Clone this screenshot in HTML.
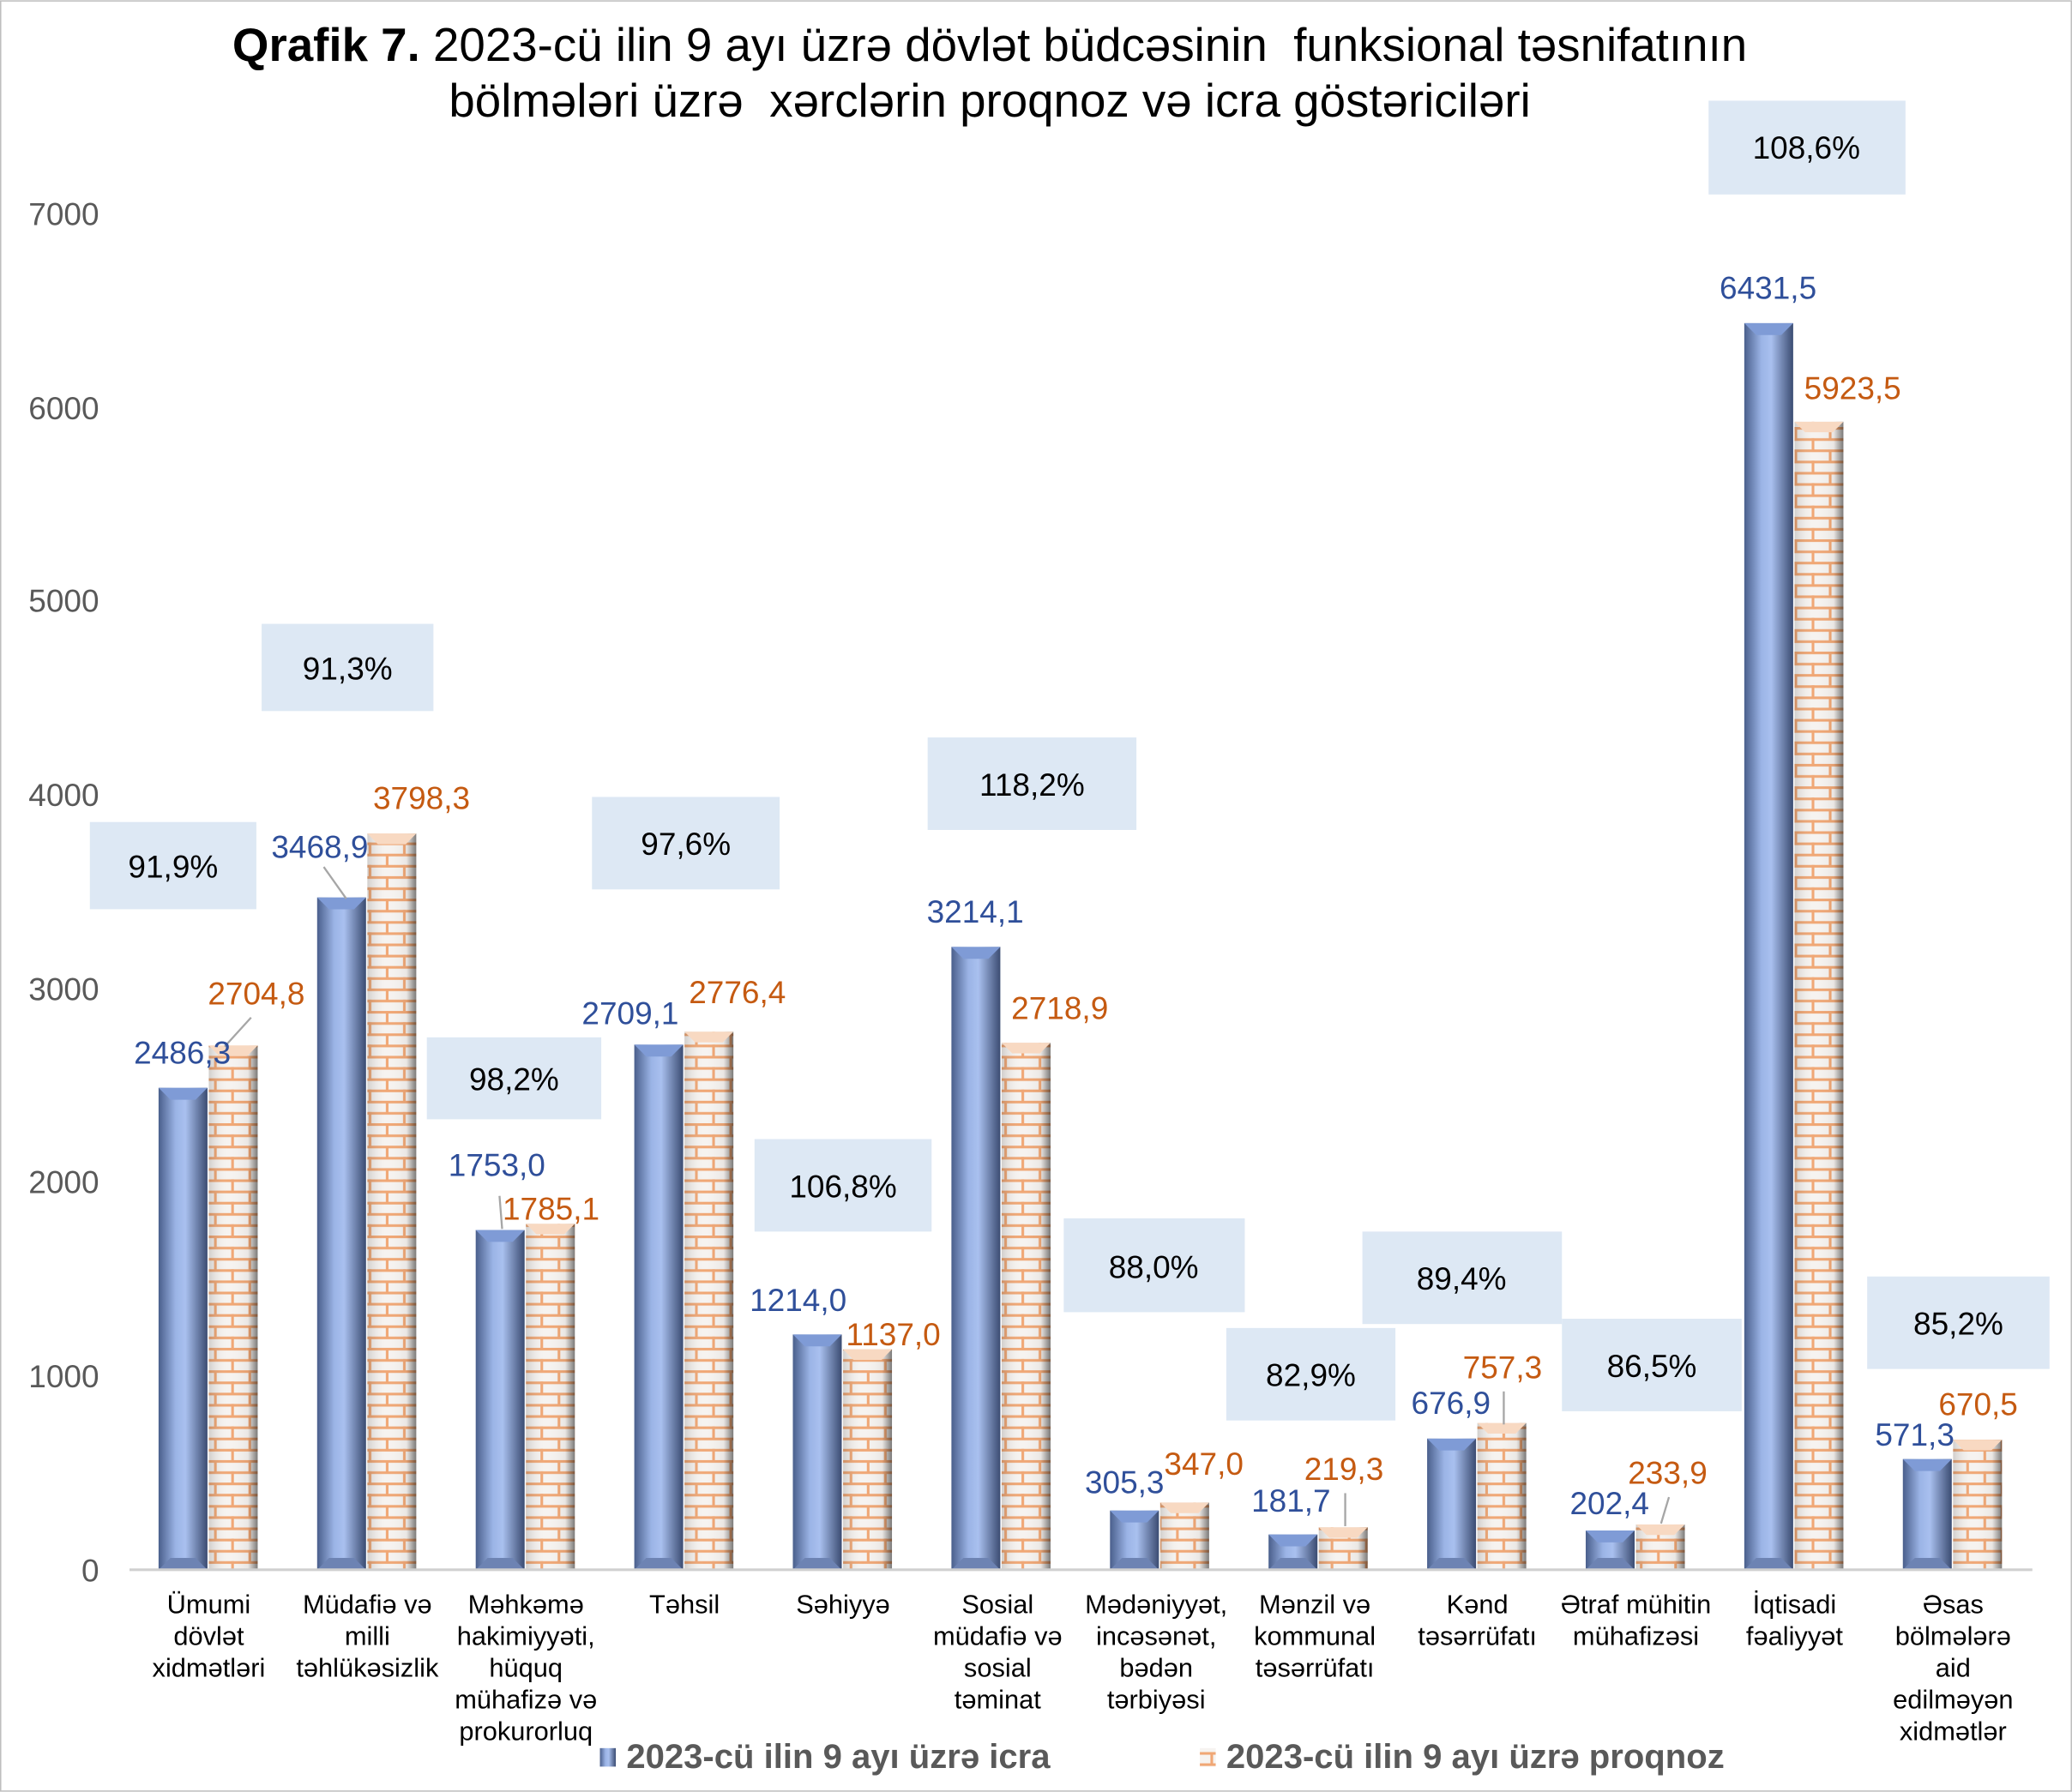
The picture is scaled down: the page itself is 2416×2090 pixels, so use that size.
<!DOCTYPE html>
<html><head><meta charset="utf-8"><style>
html,body{margin:0;padding:0;background:#fff}
svg{display:block}
text{font-family:"Liberation Sans",Arial,sans-serif}
</style></head><body>
<svg width="2416" height="2090" viewBox="0 0 1568 1356" xmlns="http://www.w3.org/2000/svg">
<defs>
<linearGradient id="bl" x1="0" x2="1" y1="0" y2="0">
<stop offset="0" stop-color="#4a5f8c"/><stop offset="0.35" stop-color="#9bb4e6"/><stop offset="0.55" stop-color="#a9c0ef"/><stop offset="1" stop-color="#3b4c72"/></linearGradient>
<linearGradient id="shade" x1="0" x2="1" y1="0" y2="0">
<stop offset="0" stop-color="#000" stop-opacity="0.15"/><stop offset="0.4" stop-color="#fff" stop-opacity="0"/><stop offset="0.8" stop-color="#000" stop-opacity="0.05"/><stop offset="1" stop-color="#000" stop-opacity="0.5"/></linearGradient>
<pattern id="brick" width="26" height="17" patternUnits="userSpaceOnUse">
<rect width="26" height="17" fill="#f6f3f0"/>
<rect y="0" width="26" height="2" fill="#f0a775"/>
<rect y="8.5" width="26" height="2" fill="#f0a775"/>
<rect x="6" y="0" width="2" height="9" fill="#f0a775"/>
<rect x="19" y="8.5" width="2" height="9" fill="#f0a775"/>
</pattern>
</defs>
<rect x="0.5" y="0.5" width="1567" height="1355" fill="#fff" stroke="#bfbfbf"/>
<text x="749" y="46" font-size="35.5" text-anchor="middle" xml:space="preserve"><tspan font-weight="bold">Qrafik 7.</tspan> 2023-cü ilin 9 ayı üzrə dövlət büdcəsinin  funksional təsnifatının</text>
<text x="749" y="88" font-size="35.5" text-anchor="middle" xml:space="preserve">bölmələri üzrə  xərclərin proqnoz və icra göstəriciləri</text>
<g font-size="24" fill="#595959" text-anchor="end">
<text x="75" y="1197">0</text><text x="75" y="1050">1000</text><text x="75" y="903">2000</text><text x="75" y="757">3000</text><text x="75" y="610">4000</text><text x="75" y="463">5000</text><text x="75" y="317">6000</text><text x="75" y="170">7000</text>
</g>
<g fill="#dde8f4">
<rect x="68" y="622" width="126" height="66"/><rect x="198" y="472" width="130" height="66"/><rect x="323" y="785" width="132" height="62"/><rect x="448" y="603" width="142" height="70"/><rect x="571" y="862" width="134" height="70"/><rect x="702" y="558" width="158" height="70"/><rect x="805" y="922" width="137" height="71"/><rect x="928" y="1005" width="128" height="70"/><rect x="1031" y="932" width="151" height="70"/><rect x="1182" y="998" width="136" height="70"/><rect x="1293" y="76" width="149" height="71"/><rect x="1413" y="966" width="138" height="70"/>
</g>
<g font-size="24" fill="#000" text-anchor="middle">
<text x="131" y="664">91,9%</text><text x="263" y="514">91,3%</text><text x="389" y="825">98,2%</text><text x="519" y="647">97,6%</text><text x="638" y="906">106,8%</text><text x="781" y="602">118,2%</text><text x="873" y="967">88,0%</text><text x="992" y="1049">82,9%</text><text x="1106" y="976">89,4%</text><text x="1250" y="1042">86,5%</text><text x="1367" y="120">108,6%</text><text x="1482" y="1010">85,2%</text>
</g>
<g>
<rect x="120" y="823.2" width="37" height="364.8" fill="url(#bl)"/>
<rect x="240" y="679.1" width="37" height="508.9" fill="url(#bl)"/>
<rect x="360" y="930.8" width="37" height="257.2" fill="url(#bl)"/>
<rect x="480" y="790.5" width="37" height="397.5" fill="url(#bl)"/>
<rect x="600" y="1009.9" width="37" height="178.1" fill="url(#bl)"/>
<rect x="720" y="716.5" width="37" height="471.5" fill="url(#bl)"/>
<rect x="840" y="1143.2" width="37" height="44.8" fill="url(#bl)"/>
<rect x="960" y="1161.3" width="37" height="26.7" fill="url(#bl)"/>
<rect x="1080" y="1088.7" width="37" height="99.3" fill="url(#bl)"/>
<rect x="1200" y="1158.3" width="37" height="29.7" fill="url(#bl)"/>
<rect x="1320" y="244.4" width="37" height="943.6" fill="url(#bl)"/>
<rect x="1440" y="1104.2" width="37" height="83.8" fill="url(#bl)"/>
</g>
<g fill="#7f9bd6">
<polygon points="120,823.2 157,823.2 148,832.2 129,832.2"/>
<polygon points="240,679.1 277,679.1 268,688.1 249,688.1"/>
<polygon points="360,930.8 397,930.8 388,939.8 369,939.8"/>
<polygon points="480,790.5 517,790.5 508,799.5 489,799.5"/>
<polygon points="600,1009.9 637,1009.9 628,1018.9 609,1018.9"/>
<polygon points="720,716.5 757,716.5 748,725.5 729,725.5"/>
<polygon points="840,1143.2 877,1143.2 868,1152.2 849,1152.2"/>
<polygon points="960,1161.3 997,1161.3 988,1170.3 969,1170.3"/>
<polygon points="1080,1088.7 1117,1088.7 1108,1097.7 1089,1097.7"/>
<polygon points="1200,1158.3 1237,1158.3 1228,1167.3 1209,1167.3"/>
<polygon points="1320,244.4 1357,244.4 1348,253.4 1329,253.4"/>
<polygon points="1440,1104.2 1477,1104.2 1468,1113.2 1449,1113.2"/>
</g>
<g fill="#6d83b3">
<polygon points="120,1188 157,1188 148,1179 129,1179"/><polygon points="240,1188 277,1188 268,1179 249,1179"/><polygon points="360,1188 397,1188 388,1179 369,1179"/><polygon points="480,1188 517,1188 508,1179 489,1179"/><polygon points="600,1188 637,1188 628,1179 609,1179"/><polygon points="720,1188 757,1188 748,1179 729,1179"/><polygon points="840,1188 877,1188 868,1179 849,1179"/><polygon points="960,1188 997,1188 988,1179 969,1179"/><polygon points="1080,1188 1117,1188 1108,1179 1089,1179"/><polygon points="1200,1188 1237,1188 1228,1179 1209,1179"/><polygon points="1320,1188 1357,1188 1348,1179 1329,1179"/><polygon points="1440,1188 1477,1188 1468,1179 1449,1179"/>
</g>
<g fill="url(#brick)">
<rect x="158" y="791.2" width="37" height="396.8"/>
<rect x="278" y="630.8" width="37" height="557.2"/>
<rect x="398" y="926.1" width="37" height="261.9"/>
<rect x="518" y="780.7" width="37" height="407.3"/>
<rect x="638" y="1021.2" width="37" height="166.8"/>
<rect x="758" y="789.1" width="37" height="398.9"/>
<rect x="878" y="1137.1" width="37" height="50.9"/>
<rect x="998" y="1155.8" width="37" height="32.2"/>
<rect x="1118" y="1076.9" width="37" height="111.1"/>
<rect x="1238" y="1153.7" width="37" height="34.3"/>
<rect x="1358" y="319" width="37" height="869"/>
<rect x="1478" y="1089.6" width="37" height="98.4"/>
</g>
<g fill="url(#shade)">
<rect x="158" y="791.2" width="37" height="396.8"/>
<rect x="278" y="630.8" width="37" height="557.2"/>
<rect x="398" y="926.1" width="37" height="261.9"/>
<rect x="518" y="780.7" width="37" height="407.3"/>
<rect x="638" y="1021.2" width="37" height="166.8"/>
<rect x="758" y="789.1" width="37" height="398.9"/>
<rect x="878" y="1137.1" width="37" height="50.9"/>
<rect x="998" y="1155.8" width="37" height="32.2"/>
<rect x="1118" y="1076.9" width="37" height="111.1"/>
<rect x="1238" y="1153.7" width="37" height="34.3"/>
<rect x="1358" y="319" width="37" height="869"/>
<rect x="1478" y="1089.6" width="37" height="98.4"/>
</g>
<g fill="#f8d9c2">
<polygon points="158,791.2 195,791.2 187,799.2 166,799.2"/>
<polygon points="278,630.8 315,630.8 307,638.8 286,638.8"/>
<polygon points="398,926.1 435,926.1 427,934.1 406,934.1"/>
<polygon points="518,780.7 555,780.7 547,788.7 526,788.7"/>
<polygon points="638,1021.2 675,1021.2 667,1029.2 646,1029.2"/>
<polygon points="758,789.1 795,789.1 787,797.1 766,797.1"/>
<polygon points="878,1137.1 915,1137.1 907,1145.1 886,1145.1"/>
<polygon points="998,1155.8 1035,1155.8 1027,1163.8 1006,1163.8"/>
<polygon points="1118,1076.9 1155,1076.9 1147,1084.9 1126,1084.9"/>
<polygon points="1238,1153.7 1275,1153.7 1267,1161.7 1246,1161.7"/>
<polygon points="1358,319 1395,319 1387,327 1366,327"/>
<polygon points="1478,1089.6 1515,1089.6 1507,1097.6 1486,1097.6"/>
</g>
<line x1="98" y1="1188" x2="1538" y2="1188" stroke="#d0d0d0" stroke-width="2"/>
<g stroke="#a6a6a6" stroke-width="1.5">
<line x1="170" y1="792" x2="190" y2="770"/><line x1="245" y1="656" x2="262" y2="680"/><line x1="378" y1="905" x2="380" y2="930"/><line x1="1018" y1="1130" x2="1018" y2="1155"/><line x1="1138" y1="1053" x2="1138" y2="1078"/><line x1="1263" y1="1133" x2="1257" y2="1153"/>
</g>
<g font-size="24" fill="#2f4f9a" text-anchor="middle">
<text x="138" y="805">2486,3</text><text x="242" y="649">3468,9</text><text x="376" y="890">1753,0</text><text x="477" y="775">2709,1</text><text x="604" y="992">1214,0</text><text x="738" y="698">3214,1</text><text x="851" y="1130">305,3</text><text x="977" y="1144">181,7</text><text x="1098" y="1070">676,9</text><text x="1218" y="1146">202,4</text><text x="1338" y="226">6431,5</text><text x="1449" y="1094">571,3</text>
</g>
<g font-size="24" fill="#c55a11" text-anchor="middle">
<text x="194" y="760">2704,8</text><text x="319" y="612">3798,3</text><text x="417" y="923">1785,1</text><text x="558" y="759">2776,4</text><text x="676" y="1018">1137,0</text><text x="802" y="771">2718,9</text><text x="911" y="1116">347,0</text><text x="1017" y="1120">219,3</text><text x="1137" y="1043">757,3</text><text x="1262" y="1123">233,9</text><text x="1402" y="302">5923,5</text><text x="1497" y="1071">670,5</text>
</g>
<g font-size="20" fill="#000" text-anchor="middle">
<text x="158" y="1221">Ümumi</text><text x="158" y="1245">dövlət</text><text x="158" y="1269">xidmətləri</text>
<text x="278" y="1221">Müdafiə və</text><text x="278" y="1245">milli</text><text x="278" y="1269">təhlükəsizlik</text>
<text x="398" y="1221">Məhkəmə</text><text x="398" y="1245">hakimiyyəti,</text><text x="398" y="1269">hüquq</text><text x="398" y="1293">mühafizə və</text><text x="398" y="1317">prokurorluq</text>
<text x="518" y="1221">Təhsil</text>
<text x="638" y="1221">Səhiyyə</text>
<text x="755" y="1221">Sosial</text><text x="755" y="1245">müdafiə və</text><text x="755" y="1269">sosial</text><text x="755" y="1293">təminat</text>
<text x="875" y="1221">Mədəniyyət,</text><text x="875" y="1245">incəsənət,</text><text x="875" y="1269">bədən</text><text x="875" y="1293">tərbiyəsi</text>
<text x="995" y="1221">Mənzil və</text><text x="995" y="1245">kommunal</text><text x="995" y="1269">təsərrüfatı</text>
<text x="1118" y="1221">Kənd</text><text x="1118" y="1245">təsərrüfatı</text>
<text x="1238" y="1221">Ətraf mühitin</text><text x="1238" y="1245">mühafizəsi</text>
<text x="1358" y="1221">İqtisadi</text><text x="1358" y="1245">fəaliyyət</text>
<text x="1478" y="1221">Əsas</text><text x="1478" y="1245">bölmələrə</text><text x="1478" y="1269">aid</text><text x="1478" y="1293">edilməyən</text><text x="1478" y="1317">xidmətlər</text>
</g>
<rect x="454" y="1323" width="12" height="14" fill="url(#bl)"/>
<text x="474" y="1338" font-size="26" font-weight="bold" fill="#595959">2023-cü ilin 9 ayı üzrə icra</text>
<rect x="908" y="1323" width="12" height="14" fill="url(#brick)"/>
<text x="928" y="1338" font-size="26" font-weight="bold" fill="#595959">2023-cü ilin 9 ayı üzrə proqnoz</text>
</svg>
</body></html>
